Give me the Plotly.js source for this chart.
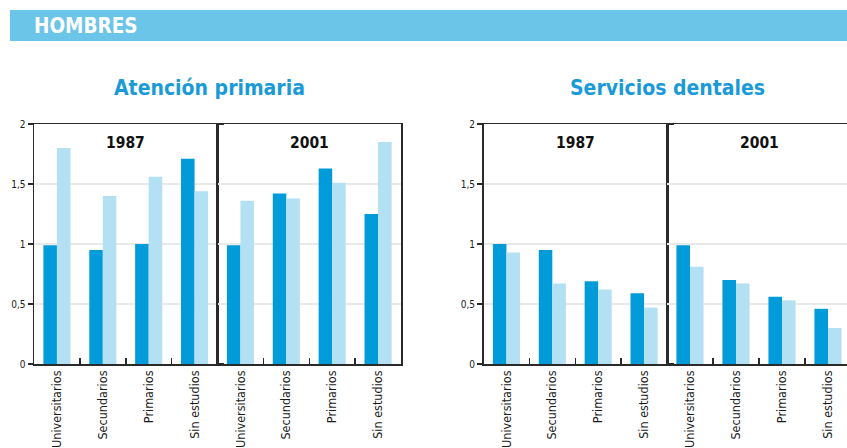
<!DOCTYPE html>
<html><head><meta charset="utf-8">
<script src="https://cdn.plot.ly/plotly-3.0.1.min.js"></script>
<style>html,body{margin:0;padding:0;overflow:hidden;background:#fff}</style>
</head><body><div id="chart"></div>
<script>
const categories = ['Universitarios','Secundarios','Primarios','Sin estudios'];
const years = ['1987','2001'];
const chartTitles = ['Atención primaria','Servicios dentales'];
const headerText = 'HOMBRES';
const yTickVals = [0,0.5,1,1.5,2];
const yTickText = ['0','0,5','1','1,5','2'];
// Atención primaria
const primaria1987Dark = [0.99,0.95,1.00,1.71];
const primaria1987Light = [1.80,1.40,1.56,1.44];
const primaria2001Dark = [0.99,1.42,1.63,1.25];
const primaria2001Light = [1.36,1.38,1.51,1.85];
// Servicios dentales
const dental1987Dark = [1.00,0.95,0.69,0.59];
const dental1987Light = [0.93,0.67,0.62,0.47];
const dental2001Dark = [0.99,0.70,0.56,0.46];
const dental2001Light = [0.81,0.67,0.53,0.30];

const DARK = '#009bd8', LIGHT = '#b3e0f2', LINE = '#2a2a2a';
const FONT = 'DejaVu Sans Condensed, DejaVu Sans, sans-serif';
const W = 852, H = 448;

function bar(y, color, xa, ya){
  return {type:'bar', x:categories, y:y, xaxis:xa, yaxis:ya,
    marker:{color:color, line:{width:0}}, hoverinfo:'none', showlegend:false};
}
const data = [
  bar(primaria1987Dark, DARK, 'x', 'y'), bar(primaria1987Light, LIGHT, 'x', 'y'),
  bar(primaria2001Dark, DARK, 'x2', 'y'), bar(primaria2001Light, LIGHT, 'x2', 'y'),
  bar(dental1987Dark, DARK, 'x3', 'y2'), bar(dental1987Light, LIGHT, 'x3', 'y2'),
  bar(dental2001Dark, DARK, 'x4', 'y2'), bar(dental2001Light, LIGHT, 'x4', 'y2')
];

const yDom = [(H-364)/H, (H-124)/H];
function xax(d, anchor){
  return {domain:[d[0]/W, d[1]/W], anchor:anchor, type:'category', range:[-0.5,3.5],
    showline:true, mirror:true, linecolor:LINE, linewidth:1.5,
    ticks:'inside', tickson:'boundaries', ticklen:6, tickcolor:LINE, tickwidth:1.5,
    tickangle:-90, tickfont:{family:FONT, size:12.5, color:'#1a1a1a'},
    showgrid:false, zeroline:false, fixedrange:true};
}
function yax(anchor){
  return {domain:yDom, anchor:anchor, range:[0,2], tickvals:yTickVals, ticktext:yTickText,
    showline:true, mirror:'all', linecolor:LINE, linewidth:1.5,
    ticks:'outside', ticklen:5, tickcolor:LINE, tickwidth:1.5,
    tickfont:{family:FONT, size:10, color:'#1a1a1a'},
    showgrid:true, gridcolor:'#e9e9e9', gridwidth:2, zeroline:false, fixedrange:true};
}

const annotations = [];
[['x','y'],['x2','y'],['x3','y2'],['x4','y2']].forEach((p,i)=>{
  annotations.push({text:years[i%2], xref:p[0]+' domain', yref:p[1]+' domain', x:0.5, y:0.921,
    xanchor:'center', yanchor:'middle', showarrow:false,
    font:{family:FONT, size:15.5, weight:700, color:'#111'}});
});
annotations.push({text:chartTitles[0], xref:'paper', yref:'paper', x:209/W, y:(H-88)/H,
  xanchor:'center', yanchor:'middle', showarrow:false, font:{family:FONT, size:21, weight:700, color:'#1a9ad7'}});
annotations.push({text:chartTitles[1], xref:'paper', yref:'paper', x:667/W, y:(H-88)/H,
  xanchor:'center', yanchor:'middle', showarrow:false, font:{family:FONT, size:21, weight:700, color:'#1a9ad7'}});
annotations.push({text:headerText, xref:'paper', yref:'paper', x:32/W, y:(H-26)/H,
  xanchor:'left', yanchor:'middle', showarrow:false, font:{family:FONT, size:20.5, weight:700, color:'#ffffff'}});

const layout = {
  width:W, height:H, margin:{l:0,r:0,t:0,b:0}, paper_bgcolor:'#fff', plot_bgcolor:'rgba(0,0,0,0)',
  barmode:'group', bargap:0.41, bargroupgap:0,
  showlegend:false,
  xaxis:xax([34,217.5],'y'), xaxis2:xax([217.5,401],'y'),
  xaxis3:xax([483.5,667],'y2'), xaxis4:xax([667,851],'y2'),
  yaxis:yax('x'), yaxis2:yax('x3'),
  shapes:[{type:'rect', xref:'paper', yref:'paper', x0:10/W, x1:1, y0:(H-41)/H, y1:(H-10)/H,
    fillcolor:'#6bc5e8', line:{width:0}, layer:'below'}],
  annotations:annotations
};
Plotly.newPlot('chart', data, layout, {displayModeBar:false, staticPlot:true});
</script></body></html>
